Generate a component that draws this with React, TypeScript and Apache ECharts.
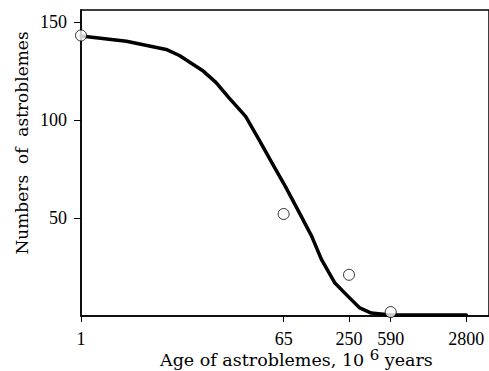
import React, { useEffect, useRef } from "react";
import * as echarts from "echarts";

// Fitted curve
const curveX = [1, 2.55, 5.78, 7.59, 12.2, 16.1, 21.1, 29.7, 39.0, 51.1, 67.3, 88.3, 116, 142, 187, 245, 312, 395, 592, 2800];
const curveY = [142.7, 140.1, 135.9, 132.8, 125.2, 119.1, 111.2, 101.8, 90.0, 78.1, 66.1, 53.5, 40.6, 28.7, 16.8, 10.0, 4.1, 1.5, 0.5, 0.5];

// Observed counts (open circles)
const obsX = [1, 65, 250, 590];
const obsY = [143, 52, 21, 2];

// Tick labels
const xTicks = [1, 65, 250, 590, 2800];
const yTicks = [50, 100, 150];

const xTitleMain = "Age of astroblemes, 10 ";
const xTitleSup = "6";
const xTitleEnd = " years";
const yTitle = "Numbers  of  astroblemes";

const serif = "'Liberation Serif', 'Times New Roman', serif";

export default function App() {
  const ref = useRef<HTMLDivElement>(null);
  useEffect(() => {
    if (!ref.current) return;
    const chart = echarts.init(ref.current, null, { renderer: "svg" });
    chart.setOption({
      animation: false,
      backgroundColor: "#fff",
      grid: {
        left: 81,
        top: 10,
        right: -3,
        bottom: 55,
        show: true,
        borderColor: "#000",
        borderWidth: 1.5,
      },
      xAxis: {
        type: "log",
        logBase: 10,
        min: 1,
        max: 4470,
        axisLine: { show: true, lineStyle: { color: "#000", width: 1.5 } },
        axisTick: { show: true, length: 6, customValues: xTicks, lineStyle: { color: "#000", width: 1 } },
        axisLabel: {
          fontFamily: serif,
          fontSize: 18,
          color: "#000",
          margin: 14,
          customValues: xTicks,
          formatter: (v: number) => String(Math.round(v)),
        },
        splitLine: { show: false },
        minorTick: { show: false },
      },
      yAxis: {
        type: "value",
        min: 0,
        max: 156,
        interval: 50,
        axisLine: { show: true, lineStyle: { color: "#000", width: 1.5 } },
        axisTick: { show: true, length: 7, customValues: yTicks, lineStyle: { color: "#000", width: 1 } },
        axisLabel: {
          fontFamily: serif,
          fontSize: 18,
          color: "#000",
          margin: 14,
          customValues: yTicks,
          formatter: (v: number) => String(v),
        },
        splitLine: { show: false },
      },
      series: [
        {
          type: "line",
          data: curveX.map((x, i) => [x, curveY[i]]),
          showSymbol: false,
          smooth: false,
          lineStyle: { color: "#000", width: 3.5, join: "round", cap: "round" },
          z: 2,
        },
        {
          type: "scatter",
          data: obsX.map((x, i) => [x, obsY[i]]),
          symbol: "circle",
          symbolSize: 11,
          clip: false,
          itemStyle: { color: "#fff", borderColor: "#000", borderWidth: 1 },
          z: 3,
        },
      ],
      graphic: [
        {
          type: "text",
          left: 160,
          top: 347,
          style: {
            text: `{a|${xTitleMain}}{s|${xTitleSup}}{a|${xTitleEnd}}`,
            rich: {
              a: { fontFamily: "DejaVu Serif", fontSize: 17.5, color: "#000", lineHeight: 26 },
              s: { fontFamily: "DejaVu Serif", fontSize: 15, color: "#000", lineHeight: 14, verticalAlign: "top" },
            },
          },
        },
        {
          type: "text",
          x: 22,
          y: 143,
          rotation: Math.PI / 2,
          style: {
            text: yTitle,
            fontFamily: "DejaVu Serif",
            fontSize: 17,
            fill: "#000",
            textAlign: "center",
            textVerticalAlign: "middle",
          },
        },
      ],
    });
    return () => chart.dispose();
  }, []);
  return (
    <div
      ref={ref}
      style={{ position: "fixed", left: 0, top: 0, width: 489, height: 371, background: "#fff" }}
    />
  );
}
